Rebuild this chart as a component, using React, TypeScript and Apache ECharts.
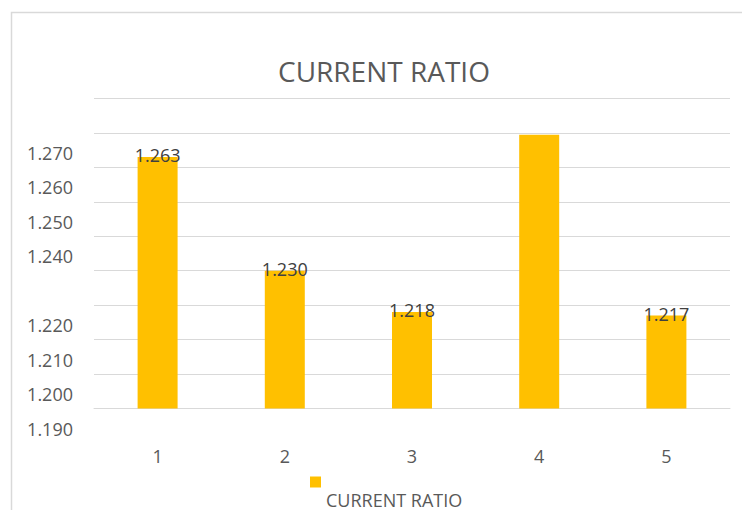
import React, { useEffect, useRef } from "react";
import * as echarts from "echarts";

const categories = ["1", "2", "3", "4", "5"];
const values = [1.263, 1.23, 1.218, 1.2695, 1.217];
const showValueLabel = [true, true, true, false, true];
const yTickValues = [1.19, 1.2, 1.21, 1.22, 1.23, 1.24, 1.25, 1.26, 1.27, 1.28];
const yTickLabels = ["1.190", "1.200", "1.210", "1.220", "", "1.240", "1.250", "1.260", "1.270", ""];
const seriesName = "CURRENT RATIO";
const titleText = "CURRENT RATIO";

const FONT = "'Open Sans', 'Liberation Sans', sans-serif";

export default function App() {
  const ref = useRef<HTMLDivElement>(null);
  useEffect(() => {
    if (!ref.current) return;
    const chart = echarts.init(ref.current, undefined, { renderer: "svg" });
    chart.setOption({
      animation: false,
      backgroundColor: "#ffffff",
      textStyle: { fontFamily: FONT },
      graphic: [
        {
          type: "rect",
          shape: { x: 11.5, y: 12.5, width: 800, height: 600 },
          style: { fill: "none", stroke: "#d9d9d9", lineWidth: 1.5 },
          silent: true,
        },
      ],
      title: {
        text: titleText,
        left: 278,
        top: 57,
        padding: 0,
        textStyle: { fontFamily: FONT, fontSize: 28, fontWeight: "normal", color: "#595959" },
      },
      legend: {
        data: [seriesName],
        left: 310,
        top: 464,
        padding: 0,
        itemWidth: 11,
        itemHeight: 11,
        itemGap: 5,
        icon: "rect",
        formatter: (name: string) => "{gap| }\n{t|" + name + "}",
        textStyle: {
          fontFamily: FONT,
          fontSize: 18,
          color: "#595959",
          rich: {
            gap: { lineHeight: 35, fontSize: 18 },
            t: { lineHeight: 18, fontSize: 18, color: "#595959", fontFamily: FONT },
          },
        },
      },
      grid: { left: 94, right: 12, top: 98.5, bottom: 101.5, containLabel: false },
      xAxis: {
        type: "category",
        data: categories,
        axisLine: { show: true, lineStyle: { color: "#d9d9d9", width: 1 } },
        axisTick: { show: false },
        axisLabel: { fontFamily: FONT, fontSize: 18, color: "#595959", margin: 38 },
      },
      yAxis: {
        type: "value",
        min: yTickValues[0],
        max: yTickValues[yTickValues.length - 1],
        interval: 0.01,
        axisLine: { show: false },
        axisTick: { show: false },
        splitLine: { lineStyle: { color: "#d9d9d9", width: 1 } },
        axisLabel: {
          fontFamily: FONT,
          fontSize: 18,
          color: "#595959",
          margin: 21,
          verticalAlign: "top",
          showMinLabel: true,
          showMaxLabel: true,
          hideOverlap: false,
          formatter: (v: number) => {
            const i = yTickValues.findIndex((t) => Math.abs(t - v) < 1e-6);
            const s = i >= 0 ? yTickLabels[i] : "";
            return s ? "{g| }\n{t|" + s + "}" : "";
          },
          rich: {
            g: { lineHeight: 11, fontSize: 10 },
            t: { lineHeight: 18, fontSize: 18, color: "#595959", fontFamily: FONT, align: "right" },
          },
        },
      },
      series: [
        {
          name: seriesName,
          type: "bar",
          barWidth: 40,
          itemStyle: { color: "#FFC000" },
          data: values.map((v, i) => ({
            value: v,
            label: {
              show: showValueLabel[i],
              position: "top",
              distance: -7,
              formatter: (p: any) => Number(p.value).toFixed(3),
              fontFamily: FONT,
              fontSize: 18,
              color: "#404040",
            },
          })),
        },
      ],
    });
    return () => chart.dispose();
  }, []);
  return <div ref={ref} style={{ width: 742, height: 510, position: "absolute", left: 0, top: 0 }} />;
}
